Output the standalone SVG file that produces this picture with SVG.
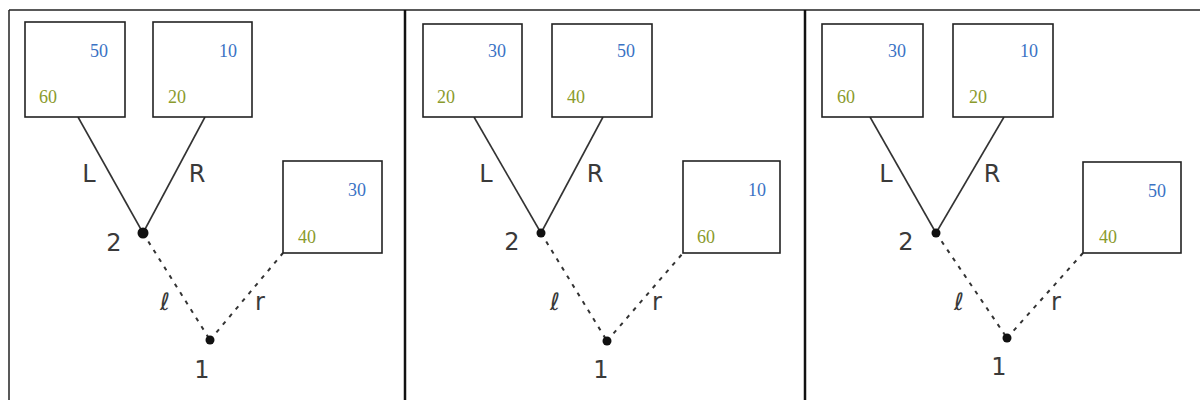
<svg xmlns="http://www.w3.org/2000/svg" width="1200" height="400" viewBox="0 0 1200 400">
<style>
.frame{fill:none;stroke:#222;stroke-width:1.5}
.div{stroke:#111;stroke-width:2.5}
.box{fill:#fff;stroke:#222;stroke-width:1.6}
.b{font-family:"Liberation Serif",serif;font-size:18px;fill:#3a72c4;text-anchor:middle}
.g{font-family:"Liberation Serif",serif;font-size:18px;fill:#8a9a2c;text-anchor:middle}
.hand{font-family:"DejaVu Sans",sans-serif;font-size:24px;fill:#3a3a3a;text-anchor:middle}
.solid{stroke:#333;stroke-width:1.6;fill:none}
.dash{stroke:#333;stroke-width:2;fill:none;stroke-dasharray:4 6}
.dot{fill:#111}
</style>
<rect width="1200" height="400" fill="#fff"/>
<g id="frame">
<line class="frame" x1="9" y1="10" x2="1200" y2="10"/>
<line class="frame" x1="9" y1="10" x2="9" y2="400"/>
<line class="div" x1="405" y1="10" x2="405" y2="400"/>
<line class="div" x1="805" y1="10" x2="805" y2="400"/>
</g>
<g id="connectors">
<line class="solid" x1="78" y1="117" x2="143" y2="233"/>
<line class="solid" x1="205" y1="117" x2="143" y2="233"/>
<line class="dash" x1="143" y1="233" x2="210" y2="340"/>
<line class="dash" x1="210" y1="340" x2="283" y2="253"/>
<line class="solid" x1="474" y1="117" x2="541" y2="233"/>
<line class="solid" x1="603" y1="117" x2="541" y2="233"/>
<line class="dash" x1="541" y1="233" x2="607" y2="341"/>
<line class="dash" x1="607" y1="341" x2="683" y2="253"/>
<line class="solid" x1="870" y1="117" x2="936" y2="233"/>
<line class="solid" x1="1004" y1="117" x2="936" y2="233"/>
<line class="dash" x1="936" y1="233" x2="1007" y2="338"/>
<line class="dash" x1="1007" y1="338" x2="1083" y2="253"/>
</g>
<g id="labels">
<text class="hand" x="89" y="182">L</text>
<text class="hand" x="197" y="182">R</text>
<text class="hand" x="114" y="251">2</text>
<text class="hand" x="165" y="310">ℓ</text>
<text class="hand" x="260" y="310">r</text>
<text class="hand" x="202" y="378">1</text>
<text class="hand" x="486" y="182">L</text>
<text class="hand" x="595" y="182">R</text>
<text class="hand" x="512" y="250">2</text>
<text class="hand" x="555" y="310">ℓ</text>
<text class="hand" x="657" y="310">r</text>
<text class="hand" x="601" y="378">1</text>
<text class="hand" x="886" y="182">L</text>
<text class="hand" x="992" y="182">R</text>
<text class="hand" x="906" y="250">2</text>
<text class="hand" x="959" y="310">ℓ</text>
<text class="hand" x="1056" y="310">r</text>
<text class="hand" x="999" y="375">1</text>
</g>
<g id="p1-A"><rect class="box" x="25" y="22" width="100" height="95"/><text class="b" x="99" y="57">50</text><text class="g" x="48" y="103">60</text></g>
<g id="p1-B"><rect class="box" x="153" y="22" width="99" height="95"/><text class="b" x="228" y="57">10</text><text class="g" x="177" y="103">20</text></g>
<g id="p1-C"><rect class="box" x="283" y="161" width="99" height="92"/><text class="b" x="357" y="196">30</text><text class="g" x="307" y="243">40</text></g>
<g id="p1-n2"><circle class="dot" cx="143" cy="233" r="5.5"/></g>
<g id="p1-n1"><circle class="dot" cx="210" cy="340" r="4.5"/></g>
<g id="p2-A"><rect class="box" x="423" y="24" width="99" height="93"/><text class="b" x="497" y="57">30</text><text class="g" x="446" y="103">20</text></g>
<g id="p2-B"><rect class="box" x="552" y="24" width="100" height="93"/><text class="b" x="626" y="57">50</text><text class="g" x="576" y="103">40</text></g>
<g id="p2-C"><rect class="box" x="683" y="161" width="97" height="92"/><text class="b" x="757" y="196">10</text><text class="g" x="706" y="243">60</text></g>
<g id="p2-n2"><circle class="dot" cx="541" cy="233" r="4.5"/></g>
<g id="p2-n1"><circle class="dot" cx="607" cy="341" r="4.5"/></g>
<g id="p3-A"><rect class="box" x="822" y="24" width="101" height="93"/><text class="b" x="897" y="57">30</text><text class="g" x="846" y="103">60</text></g>
<g id="p3-B"><rect class="box" x="953" y="24" width="100" height="93"/><text class="b" x="1029" y="57">10</text><text class="g" x="978" y="103">20</text></g>
<g id="p3-C"><rect class="box" x="1083" y="162" width="98" height="91"/><text class="b" x="1157" y="197">50</text><text class="g" x="1108" y="243">40</text></g>
<g id="p3-n2"><circle class="dot" cx="936" cy="233" r="4.5"/></g>
<g id="p3-n1"><circle class="dot" cx="1007" cy="338" r="4.5"/></g>
</svg>
